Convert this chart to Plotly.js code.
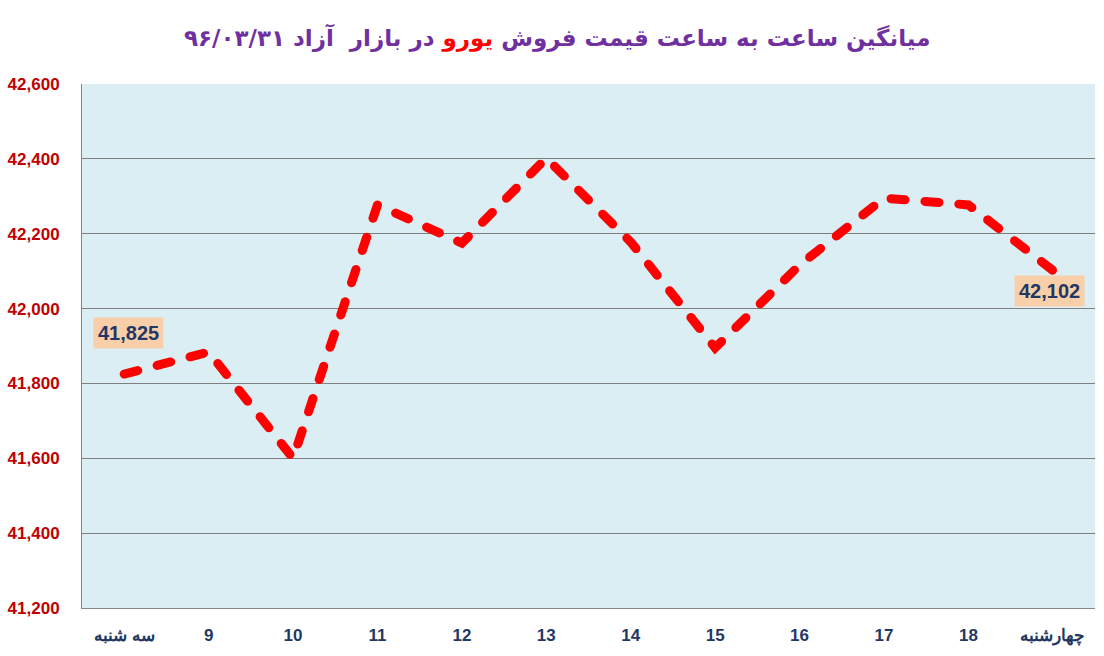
<!DOCTYPE html>
<html>
<head>
<meta charset="utf-8">
<script src="https://cdn.plot.ly/plotly-3.0.1.min.js"></script>
<style>
html,body{margin:0;padding:0;background:#fff;}
#chart{width:1104px;height:656px;}
path.js-line{stroke-linecap:round !important;}
</style>
</head>
<body>
<div id="chart"></div>
<script>
const categories = ["سه شنبه","9","10","11","12","13","14","15","16","17","18","چهارشنبه"];
const prices = [41825, 41884, 41600, 42277, 42175, 42402, 42178, 41895, 42116, 42295, 42277, 42102];
const yTicks = [41200, 41400, 41600, 41800, 42000, 42200, 42400, 42600];
const yTickLabels = ["41,200","41,400","41,600","41,800","42,000","42,200","42,400","42,600"];
const labelledPoints = [0, 11];

const xKeys = categories.map((c,i)=>i);
const fmt = v => v.toLocaleString('en-US');

const trace = {
  x: xKeys, y: prices, type: 'scatter', mode: 'lines',
  line: {color: '#ff0000', width: 9, dash: '14px,20px'},
  hoverinfo: 'skip'
};

const annotations = labelledPoints.map(i => ({
  x: i, y: prices[i], xref: 'x', yref: 'y',
  text: '<b>' + fmt(prices[i]) + '</b>',
  showarrow: false,
  bgcolor: '#f9cfaa',
  borderpad: 4,
  font: {family: 'Liberation Sans, Arial, sans-serif', size: 20, color: '#1f3864'},
  yshift: i === 0 ? 41 : -21,
  xshift: i === 0 ? 4 : -3
}));

annotations.push({
  xref: 'paper', yref: 'paper', x: 0.469, y: 1, yshift: 47, xanchor: 'center', yanchor: 'middle',
  showarrow: false,
  text: '<b>میانگین ساعت به ساعت قیمت فروش <span style="color:#ff0000">یورو</span> در بازار  آزاد ۹۶/۰۳/۳۱</b>',
  font: {family: 'DejaVu Sans, sans-serif', size: 23, color: '#7030a0'}
});

const layout = {
  width: 1104, height: 656,
  margin: {l: 82, r: 9, t: 84, b: 48},
  paper_bgcolor: '#ffffff',
  plot_bgcolor: '#daeef3',
  showlegend: false,
  xaxis: {
    type: 'linear', range: [-0.5, 11.5],
    tickvals: xKeys, ticktext: categories,
    showgrid: false, zeroline: false,
    showline: true, linecolor: '#868686', linewidth: 1, mirror: false,
    ticks: '', ticklabelstandoff: 12,
    tickfont: {family: 'Liberation Sans, Arial, sans-serif', size: 17, color: '#1f3864', weight: 'bold'}
  },
  yaxis: {
    range: [41200, 42600],
    tickvals: yTicks, ticktext: yTickLabels,
    showgrid: true, gridcolor: '#7f7f7f', gridwidth: 1,
    zeroline: false, showline: true, linecolor: '#868686', linewidth: 1,
    ticks: '', ticklabelstandoff: 18,
    tickfont: {family: 'Liberation Sans, Arial, sans-serif', size: 17, color: '#c00000', weight: 'bold'}
  },
  annotations: annotations
};

Plotly.newPlot('chart', [trace], layout, {displayModeBar: false, staticPlot: true});
</script>
</body>
</html>
